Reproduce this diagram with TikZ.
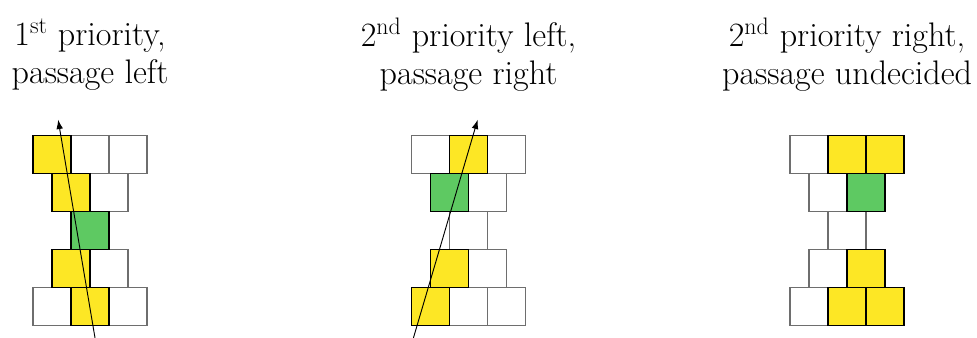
\documentclass[tikz,border=0pt]{standalone}
\definecolor{occyellow}{HTML}{FDE725}
\definecolor{pedgreen}{HTML}{5EC962}
\definecolor{cellgrey}{RGB}{110,110,110}
\usetikzlibrary{arrows.meta}

\begin{document}
\begin{tikzpicture}[
      cell/.style={draw=cellgrey,line width=1.1pt,minimum size=1cm,
                   inner sep=0pt,outer sep=0pt},
      occ/.style={cell,draw=black,fill=occyellow},
      ped/.style={cell,draw=black,fill=pedgreen},
      ttl/.style={align=center,inner sep=0pt,
                  font=\fontsize{25.5}{28.5}\selectfont},
      trail/.style={line width=0.7pt,-{Latex[length=7pt,width=5pt]}}]
    \useasboundingbox (0,0) rectangle (25.71,8.89);
    % left: first priority, passage left
    \begin{scope}[shift={(2.37,0.82)}]
      \node[ttl] (ta) at (0,6.63) {1\textsuperscript{st} priority,\\passage left};
      \node[cell] (a12) at (0,4) {}; \node[cell] (a13) at (1,4) {};
      \node[cell] (a22) at (0.5,3) {};
      \node[cell] (a42) at (0.5,1) {};
      \node[cell] (a51) at (-1,0) {}; \node[cell] (a53) at (1,0) {};
      \node[occ] (a11) at (-1,4) {};
      \node[occ] (a21) at (-0.5,3) {};
      \node[ped] (a31) at (0,2) {};
      \node[occ] (a41) at (-0.5,1) {};
      \node[occ] (a52) at (0,0) {};
      \coordinate (afrom) at (0.13,-0.82);
      \coordinate (ato) at (-0.84,4.92);
      \draw[trail] (afrom) -- (ato);
    \end{scope}
    % middle: second priority left, passage right
    \begin{scope}[shift={(12.33,0.82)}]
      \node[ttl] (tb) at (0,6.63) {2\textsuperscript{nd} priority left,\\passage right};
      \node[cell] (b11) at (-1,4) {}; \node[cell] (b13) at (1,4) {};
      \node[cell] (b22) at (0.5,3) {};
      \node[cell] (b31) at (0,2) {};
      \node[cell] (b42) at (0.5,1) {};
      \node[cell] (b52) at (0,0) {}; \node[cell] (b53) at (1,0) {};
      \node[occ] (b12) at (0,4) {};
      \node[ped] (b21) at (-0.5,3) {};
      \node[occ] (b41) at (-0.5,1) {};
      \node[occ] (b51) at (-1,0) {};
      \coordinate (bfrom) at (-1.45,-0.82);
      \coordinate (bto) at (0.24,4.92);
      \draw[trail] (bfrom) -- (bto);
    \end{scope}
    % right: second priority right, passage undecided
    \begin{scope}[shift={(22.29,0.82)}]
      \node[ttl] (tc) at (0,6.63) {2\textsuperscript{nd} priority right,\\passage undecided};
      \node[cell] (c11) at (-1,4) {};
      \node[cell] (c21) at (-0.5,3) {};
      \node[cell] (c31) at (0,2) {};
      \node[cell] (c41) at (-0.5,1) {};
      \node[cell] (c51) at (-1,0) {};
      \node[occ] (c12) at (0,4) {}; \node[occ] (c13) at (1,4) {};
      \node[ped] (c22) at (0.5,3) {};
      \node[occ] (c42) at (0.5,1) {};
      \node[occ] (c52) at (0,0) {}; \node[occ] (c53) at (1,0) {};
    \end{scope}
  \end{tikzpicture}
\end{document}
